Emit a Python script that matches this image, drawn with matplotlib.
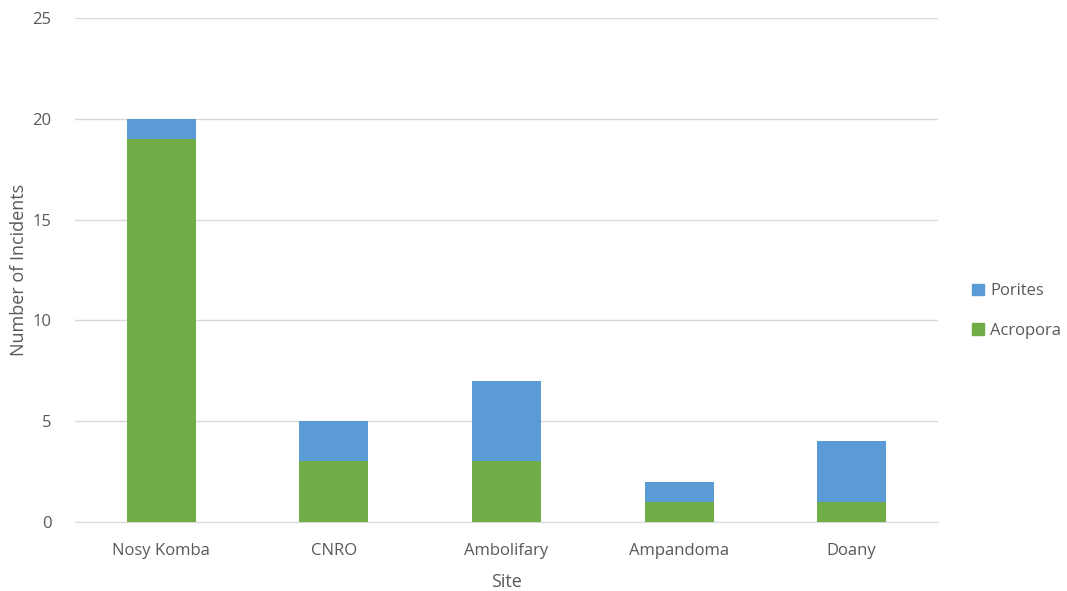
import matplotlib
matplotlib.use("Agg")
from matplotlib import pyplot as plt
from matplotlib.patches import Patch

# Datos por sitio
sites = ["Nosy Komba", "CNRO", "Ambolifary", "Ampandoma", "Doany"]
acropora = [19, 3, 3, 1, 1]
porites = [1, 2, 4, 1, 3]

azul = "#5B9BD5"
verde = "#70AD47"
gris = "#595959"

plt.rcParams['font.family'] = ['Open Sans', 'DejaVu Sans']

fig = plt.figure(figsize=(10.67, 5.91), dpi=100)
ax = fig.add_axes([0.0703, 0.1168, 0.8087, 0.8527])

x = list(range(len(sites)))
ax.bar(x, acropora, width=0.4, color=verde, zorder=3)
ax.bar(x, porites, width=0.4, bottom=acropora, color=azul, zorder=3)

ax.set_xlim(-0.5, 4.5)
ax.set_ylim(0, 25)
ax.set_yticks([0, 5, 10, 15, 20, 25])
ax.set_xticks(x)
ax.set_xticklabels(sites)
ax.grid(axis="y", color="#D9D9D9", linewidth=1, zorder=0)

for lado in ["top", "right", "left"]:
    ax.spines[lado].set_visible(False)
ax.spines["bottom"].set_color("#D9D9D9")
ax.tick_params(axis="both", length=0, colors=gris, labelsize=12)
ax.tick_params(axis="x", pad=15)
ax.tick_params(axis="y", pad=17)

ax.set_xlabel("Site", color=gris, fontsize=13, labelpad=10)
ax.set_ylabel("Number of Incidents", color=gris, fontsize=13)
ax.yaxis.set_label_coords(-0.054, 0.5)

handles = [Patch(color=azul, label="Porites"), Patch(color=verde, label="Acropora")]
leg = fig.legend(handles=handles, loc="center left", bbox_to_anchor=(0.897, 0.474),
                 frameon=False, fontsize=12, handlelength=0.7, handleheight=0.7,
                 handletextpad=0.4, labelspacing=1.4)
for t in leg.get_texts():
    t.set_color(gris)

plt.savefig("out.png")
